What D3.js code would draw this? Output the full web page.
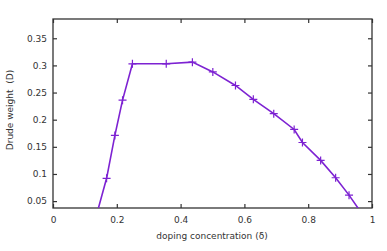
<!DOCTYPE html>
<html><head><meta charset="utf-8">
<script src="https://cdn.jsdelivr.net/npm/d3@7"></script>
<style>body{margin:0;background:#fff}svg text{font-family:"DejaVu Sans",sans-serif;fill:#333;white-space:pre}</style>
</head><body>
<svg id="c" width="387" height="251"></svg>
<script>
const doping = [0.125, 0.168, 0.194, 0.218, 0.249, 0.355, 0.437, 0.501, 0.572, 0.628, 0.692, 0.756, 0.782, 0.839, 0.886, 0.928, 1.0];
const drude  = [0.0, 0.092, 0.171, 0.236, 0.303, 0.303, 0.306, 0.288, 0.263, 0.2375, 0.211, 0.182, 0.158, 0.125, 0.093, 0.061, 0.0];
const xTicks = [0, 0.2, 0.4, 0.6, 0.8, 1];
const yTicks = [0.05, 0.1, 0.15, 0.2, 0.25, 0.3, 0.35];

const svg = d3.select("#c");
const L = 53, R = 372, T = 19, B = 208;
const x = d3.scaleLinear().domain([0, 1]).range([L, R]);
const y = d3.scaleLinear().domain([0.0373, 0.3855]).range([B, T]);
const col = "#7d22d2";

svg.append("defs").append("clipPath").attr("id","clip")
  .append("rect").attr("x",L).attr("y",T).attr("width",R-L).attr("height",B-T);

const tl = 4;
const gx = svg.append("g").attr("transform",`translate(0,${B})`)
  .call(d3.axisBottom(x).tickValues(xTicks).tickSize(-tl).tickPadding(9).tickFormat(d3.format("")));
const gxt = svg.append("g").attr("transform",`translate(0,${T})`)
  .call(d3.axisTop(x).tickValues(xTicks).tickSize(-tl).tickFormat(""));
const gy = svg.append("g").attr("transform",`translate(${L},0)`)
  .call(d3.axisLeft(y).tickValues(yTicks).tickSize(-tl).tickPadding(6).tickFormat(d3.format("")));
const gyr = svg.append("g").attr("transform",`translate(${R},0)`)
  .call(d3.axisRight(y).tickValues(yTicks).tickSize(-tl).tickFormat(""));
[gx,gxt,gy,gyr].forEach(g=>{
  g.select(".domain").remove();
  g.selectAll(".tick line").attr("stroke","#333").attr("stroke-width",1.2);
  g.selectAll(".tick text").attr("font-size",9).attr("fill","#333");
});
svg.append("rect").attr("x",L).attr("y",T).attr("width",R-L).attr("height",B-T)
  .attr("fill","none").attr("stroke","#333").attr("stroke-width",1.3);

const pts = doping.map((d,i)=>[d, drude[i]]);
const g = svg.append("g").attr("clip-path","url(#clip)");
g.append("path").datum(pts)
  .attr("d", d3.line().x(d=>x(d[0])).y(d=>y(d[1])))
  .attr("fill","none").attr("stroke",col).attr("stroke-width",1.6);
const s = 4;
g.selectAll(".m").data(pts).enter().append("path")
  .attr("d", d=>`M${x(d[0])-s},${y(d[1])}H${x(d[0])+s}M${x(d[0])},${y(d[1])-s}V${y(d[1])+s}`)
  .attr("stroke",col).attr("stroke-width",1.2);

svg.append("text").attr("x",212).attr("y",239).attr("text-anchor","middle")
  .attr("font-size",9).text("doping concentration (δ)");
svg.append("text").attr("transform","translate(13,110) rotate(-90)").attr("text-anchor","middle")
  .attr("font-size",9).text("Drude weight  (D)");
</script>
</body></html>
